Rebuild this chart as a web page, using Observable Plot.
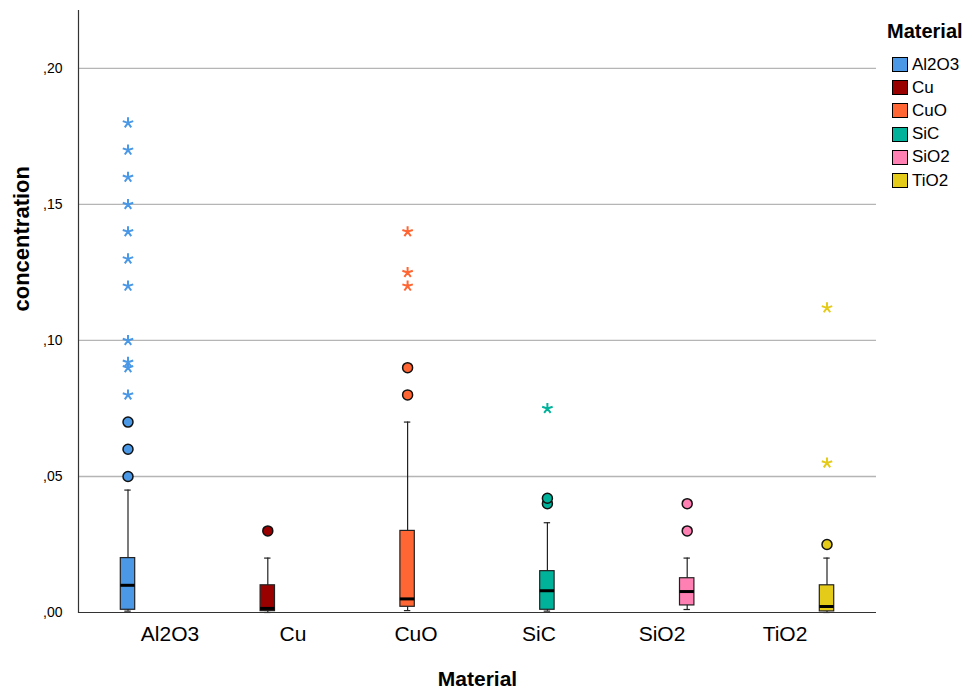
<!DOCTYPE html>
<html>
<head>
<meta charset="utf-8">
<script src="https://cdn.jsdelivr.net/npm/d3@7"></script>
<script src="https://cdn.jsdelivr.net/npm/@observablehq/plot@0.6"></script>
<style>
  html, body { margin: 0; padding: 0; background: #fff; }
  #wrap { position: relative; width: 972px; height: 693px; overflow: hidden; font-family: "Liberation Sans", Arial, sans-serif; }
  #legend { position: absolute; left: 887px; top: 19px; color: #000; }
  #legend .title { font-weight: bold; font-size: 20px; line-height: 24px; margin-bottom: 10px; }
  #legend .row { display: flex; align-items: center; height: 23.2px; margin-left: 5px; }
  #legend .sw { width: 14px; height: 13px; border: 1px solid #000; margin-right: 4px; }
  #legend .lab { font-size: 17px; }
</style>
</head>
<body>
<div id="wrap"><div id="chart"></div><div id="legend"></div></div>
<script>
// ---- data ----
const materials = ["Al2O3", "Cu", "CuO", "SiC", "SiO2", "TiO2"];
const colors    = ["#4a98e6", "#990000", "#ff6633", "#00b29a", "#ff80b3", "#e5cb19"];
const whiskerLow  = [0.0005, 0.0000, 0.0007, 0.0005, 0.0011, 0.0000];
const q1          = [0.0010, 0.0005, 0.0021, 0.0010, 0.0026, 0.0004];
const medians     = [0.0100, 0.0015, 0.0050, 0.0080, 0.0077, 0.0022];
const q3          = [0.0200, 0.0100, 0.0300, 0.0152, 0.0126, 0.0100];
const whiskerHigh = [0.0450, 0.0200, 0.0700, 0.0330, 0.0200, 0.0200];
// circles (outliers)
const outlierMaterial = ["Al2O3", "Al2O3", "Al2O3", "Cu", "CuO", "CuO", "SiC", "SiC", "SiO2", "SiO2", "TiO2"];
const outlierValue    = [0.050, 0.060, 0.070, 0.030, 0.080, 0.090, 0.040, 0.042, 0.030, 0.040, 0.025];
// stars (extremes)
const extremeMaterial = ["Al2O3", "Al2O3", "Al2O3", "Al2O3", "Al2O3", "Al2O3", "Al2O3", "Al2O3", "Al2O3", "Al2O3", "Al2O3",
                         "CuO", "CuO", "CuO", "SiC", "TiO2", "TiO2"];
const extremeValue    = [0.080, 0.090, 0.092, 0.100, 0.120, 0.130, 0.140, 0.150, 0.160, 0.170, 0.180,
                         0.120, 0.125, 0.140, 0.075, 0.055, 0.112];
const yTicks = [0, 0.05, 0.10, 0.15, 0.20];
const yTickLabels = [",00", ",05", ",10", ",15", ",20"];
const yMax = 0.2213;

// ---- layout ----
const W = 972, H = 693, mL = 78, mR = 96, mT = 10, mB = 81;
const xInset = 28.2;
const bw = (W - mL - mR - 2 * xInset) / materials.length;   // category band width
const slot = 16.8;      // cluster slot width
const boxHalf = 7.5, capHalf = 3.5;

const star5 = {
  draw(context, size) {
    const r = Math.sqrt(size / Math.PI);
    for (let k = 0; k < 5; k++) {
      const a = -Math.PI / 2 + k * 2 * Math.PI / 5;
      context.moveTo(0, 0);
      context.lineTo(r * Math.cos(a), r * Math.sin(a));
    }
  }
};

const marks = [
  Plot.ruleY(yTicks.filter(d => d > 0), {stroke: "#b5b5b5", strokeWidth: 1.3}),
];

materials.forEach((m, i) => {
  const off = (i - (materials.length - 1) / 2) * slot;
  const row = [{m, lo: whiskerLow[i], q1: q1[i], med: medians[i], q3: q3[i], hi: whiskerHigh[i]}];
  const outs = outlierMaterial.map((mm, j) => ({m: mm, v: outlierValue[j]})).filter(d => d.m === m);
  const exts = extremeMaterial.map((mm, j) => ({m: mm, v: extremeValue[j]})).filter(d => d.m === m);
  const boxIn = {insetLeft: bw / 2 + off - boxHalf, insetRight: bw / 2 - off - boxHalf};
  const capIn = {insetLeft: bw / 2 + off - capHalf, insetRight: bw / 2 - off - capHalf};
  marks.push(
    Plot.ruleX(row, {x: "m", y1: "lo", y2: "hi", dx: off, stroke: "#222", strokeWidth: 1.2}),
    Plot.tickY(row, {x: "m", y: "hi", ...capIn, stroke: "#222", strokeWidth: 1.2}),
    Plot.tickY(row, {x: "m", y: "lo", ...capIn, stroke: "#222", strokeWidth: 1.2}),
    Plot.barY(row, {x: "m", y1: "q1", y2: "q3", ...boxIn, fill: colors[i], stroke: "#222", strokeWidth: 1.2}),
    Plot.tickY(row, {x: "m", y: "med", ...boxIn, stroke: "#000", strokeWidth: 3}),
    Plot.dot(outs, {x: "m", y: "v", dx: off, r: 5, fill: colors[i], stroke: "#111", strokeWidth: 1.5}),
    Plot.dot(exts, {x: "m", y: "v", dx: off, r: 5.5, symbol: star5, fill: "none", stroke: colors[i], strokeWidth: 2})
  );
});

marks.push(
  Plot.ruleY([0], {stroke: "#333", strokeWidth: 1.2}),
  Plot.frame({anchor: "left", stroke: "#333", strokeWidth: 1.2}),
  Plot.axisY({ticks: yTicks, tickFormat: d => yTickLabels[yTicks.indexOf(d)], tickSize: 0, tickPadding: 16, fontSize: 14, label: null}),
  Plot.axisX({tickSize: 0, tickPadding: 14, fontSize: 21, label: null}),
  Plot.text(["concentration"], {frameAnchor: "left", rotate: -90, dx: -57, fontSize: 22, fontWeight: "bold", fill: "#000"}),
  Plot.text(["Material"], {frameAnchor: "bottom", dy: 73, fontSize: 21, fontWeight: "bold", fill: "#000"})
);

const chart = Plot.plot({
  width: W, height: H,
  marginLeft: mL, marginRight: mR, marginTop: mT, marginBottom: mB,
  style: {fontFamily: "'Liberation Sans', Arial, sans-serif", background: "#fff", color: "#000"},
  x: {type: "band", domain: materials, padding: 0, inset: xInset, axis: null},
  y: {domain: [0, yMax], axis: null},
  marks
});
document.getElementById("chart").appendChild(chart);

// legend
const lg = document.getElementById("legend");
const t = document.createElement("div"); t.className = "title"; t.textContent = "Material"; lg.appendChild(t);
materials.forEach((m, i) => {
  const r = document.createElement("div"); r.className = "row";
  const s = document.createElement("div"); s.className = "sw"; s.style.background = colors[i];
  const l = document.createElement("div"); l.className = "lab"; l.textContent = m;
  r.appendChild(s); r.appendChild(l); lg.appendChild(r);
});
</script>
</body>
</html>
